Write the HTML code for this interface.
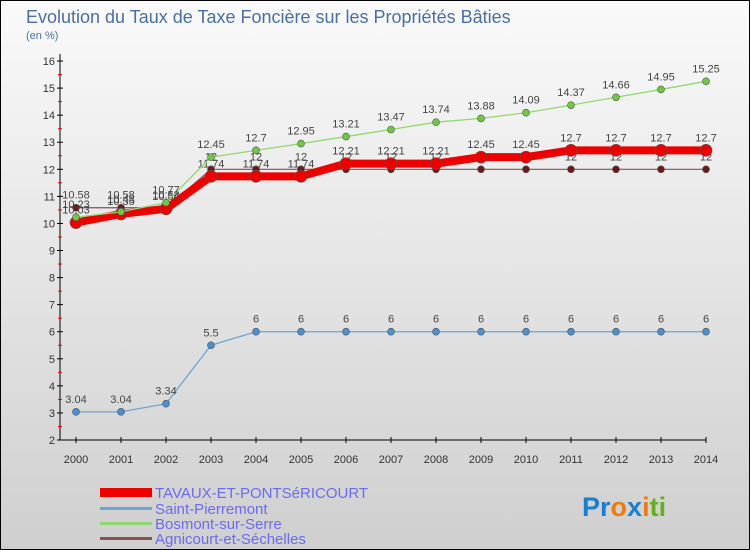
<!DOCTYPE html>
<html><head><meta charset="utf-8"><style>
body{margin:0;background:#fff}
svg{display:block;font-family:"Liberation Sans",sans-serif}
</style></head><body>
<svg width="750" height="550" id="c">
<defs><linearGradient id="bg" x1="0" y1="0" x2="0" y2="1"><stop offset="0" stop-color="#fafafa"/><stop offset="1" stop-color="#cfcfcf"/></linearGradient></defs>
<rect x="0.5" y="0.5" width="749" height="549" fill="url(#bg)" stroke="#000"/>
<text x="26" y="23" font-size="18" fill="#4a6fa5">Evolution du Taux de Taxe Foncière sur les Propriétés Bâties</text>
<text x="26" y="39" font-size="11" fill="#4a6fa5">(en %)</text>
<g id="axes"></g><g id="series"></g>
<g>
<rect x="100" y="488" width="52" height="9" fill="#e00"/>
<text x="155" y="498" font-size="15" fill="#6b6bf0">TAVAUX-ET-PONTSéRICOURT</text>
<rect x="100" y="507" width="52" height="3" fill="#6fa3d0"/>
<text x="155" y="514" font-size="15" fill="#6b6bf0">Saint-Pierremont</text>
<rect x="100" y="522" width="52" height="3" fill="#90d870"/>
<text x="155" y="529" font-size="15" fill="#6b6bf0">Bosmont-sur-Serre</text>
<rect x="100" y="537" width="52" height="3" fill="#8a5050"/>
<text x="155" y="544" font-size="15" fill="#6b6bf0">Agnicourt-et-Séchelles</text>
</g>
<text x="582" y="516" font-size="27" font-weight="bold"><tspan fill="#1a7fd0">Pr</tspan><tspan fill="#f07a10">o</tspan><tspan fill="#1a7fd0">x</tspan><tspan fill="#f07a10">i</tspan><tspan fill="#60b020">ti</tspan></text>
</svg>
<script>
const years=[2000,2001,2002,2003,2004,2005,2006,2007,2008,2009,2010,2011,2012,2013,2014];
const tavaux=[10.03,10.35,10.54,11.74,11.74,11.74,12.21,12.21,12.21,12.45,12.45,12.7,12.7,12.7,12.7];
const saintP=[3.04,3.04,3.34,5.5,6,6,6,6,6,6,6,6,6,6,6];
const bosmont=[10.23,10.43,10.77,12.45,12.7,12.95,13.21,13.47,13.74,13.88,14.09,14.37,14.66,14.95,15.25];
const agnicourt=[10.58,10.58,10.58,12,12,12,12,12,12,12,12,12,12,12,12];
const yTicks=[2,3,4,5,6,7,8,9,10,11,12,13,14,15,16];
const NS="http://www.w3.org/2000/svg";
const X=i=>76+i*45, Y=v=>440-(v-2)*27.07;
function mk(t,a,p){const e=document.createElementNS(NS,t);for(const k in a)e.setAttribute(k,a[k]);p.appendChild(e);return e;}
const ax=document.getElementById('axes');
let e=mk('line',{x1:60,y1:54,x2:60,y2:440,stroke:'#000'},ax);


e=mk('line',{x1:60,y1:440,x2:706,y2:440,stroke:'#000'},ax);


yTicks.forEach(v=>{
 mk('line',{x1:57,y1:Y(v),x2:63,y2:Y(v),stroke:'#000'},ax);
 if(v<16)mk('line',{x1:58,y1:Y(v+0.5),x2:62,y2:Y(v+0.5),stroke:'#e00'},ax);
 const t=mk('text',{x:55,y:Y(v)+4,'font-size':11,fill:'#333','text-anchor':'end'},ax);t.textContent=v;
 
 
});
years.forEach((yr,i)=>{
 mk('line',{x1:X(i),y1:437,x2:X(i),y2:443,stroke:'#000'},ax);
 const t=mk('text',{x:X(i),y:463,'font-size':11,fill:'#333','text-anchor':'middle'},ax);t.textContent=yr;
 
 
});
const sg=document.getElementById('series');
function draw(vals,color,w,r,dot,name){
 const g=mk('g',{},sg);
 
 
 mk('polyline',{points:vals.map((v,i)=>X(i)+','+Y(v)).join(' '),fill:'none',stroke:color,'stroke-width':w,'stroke-linejoin':'round'},g);
 vals.forEach((v,i)=>{
  const c=mk('circle',{cx:X(i),cy:Y(v),r:r,fill:dot,stroke:'#555','stroke-width':0.6},g);
  
  
  const t=mk('text',{x:X(i),y:Y(v)-9,'font-size':11,fill:'#444','text-anchor':'middle'},g);
  t.textContent=String(v);
  
  
 });
}
draw(agnicourt,'#8a5050',1.2,3.5,'#6b1a1a','agnicourt-series');
draw(tavaux,'#e00',8,6,'#e00','tavaux-series');
draw(saintP,'#6fa3d0',1.3,3.5,'#4a90d0','saint-pierremont-series');
draw(bosmont,'#90d870',1.3,3.5,'#70c840','bosmont-series');
</script>
</body></html>
